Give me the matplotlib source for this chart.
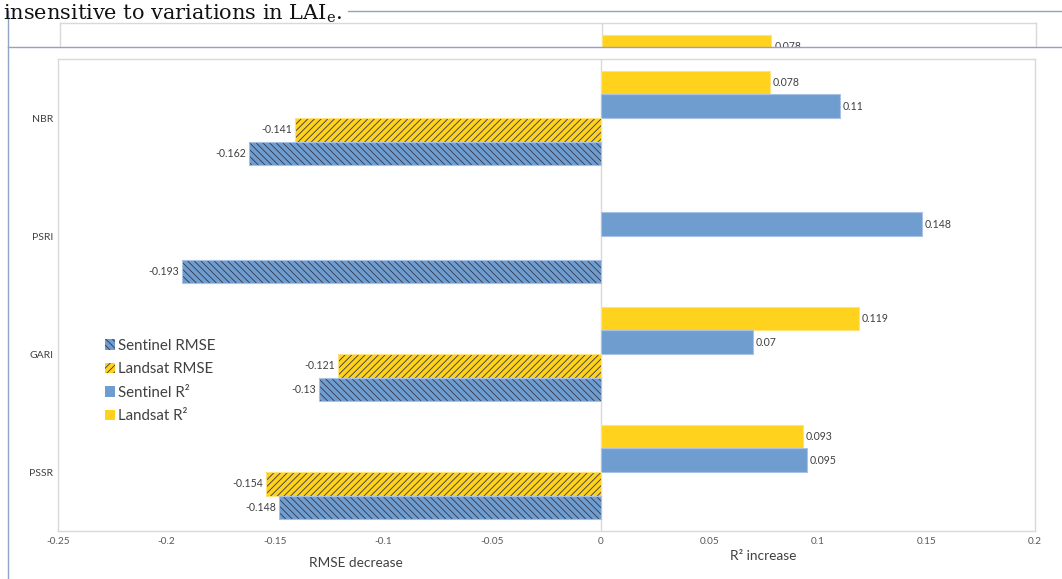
import matplotlib
matplotlib.use("Agg")
import matplotlib.pyplot as plt
import numpy as np
from matplotlib.patches import Patch
from matplotlib.lines import Line2D

# ---- data -------------------------------------------------------------
indices = ["NBR", "PSRI", "GARI", "PSSR"]
landsat_r2 = [0.078, np.nan, 0.119, 0.093]
sentinel_r2 = [0.11, 0.148, 0.07, 0.095]
landsat_rmse = [-0.141, np.nan, -0.121, -0.154]
sentinel_rmse = [-0.162, -0.193, -0.13, -0.148]
x_ticks = [-0.25, -0.2, -0.15, -0.1, -0.05, 0, 0.05, 0.1, 0.15, 0.2]
x_tick_labels = ["-0.25", "-0.2", "-0.15", "-0.1", "-0.05", "0",
                 "0.05", "0.1", "0.15", "0.2"]
series_names = ["Sentinel RMSE", "Landsat RMSE", "Sentinel R²", "Landsat R²"]
page_line = "insensitive to variations in LAI$_\\mathregular{e}$."

# ---- style ------------------------------------------------------------
plt.rcParams["font.family"] = ["Lato", "DejaVu Sans"]
plt.rcParams["mathtext.fontset"] = "dejavuserif"
plt.rcParams["hatch.linewidth"] = 0.6

BLUE = "#709DCF"
YELLOW = "#FFD21E"
BLUE_EDGE = "#A7C2E4"
YELLOW_EDGE = "#FFE37A"
HATCH = "#33384A"
GRID = "#D9D9D9"
TEXT = "#404040"
TICK = "#595959"
FRAME = "#8FA3C3"

W, H = 1062, 579
fig = plt.figure(figsize=(W / 100, H / 100), dpi=100)


def fx(px):
    return px / W


def fy(py):
    return 1 - py / H


BAR_H = 0.2
offsets = {"landsat_r2": -0.3, "sentinel_r2": -0.1,
           "landsat_rmse": 0.1, "sentinel_rmse": 0.3}


def draw_series(ax, vals, offset, color, edge, hatch=None, clip=False):
    v = np.array(vals, dtype=float)
    y = np.arange(len(v)) + offset
    m = ~np.isnan(v)
    if hatch:
        ax.barh(y[m], v[m], height=BAR_H, color=color, edgecolor=HATCH,
                linewidth=0, hatch=hatch, zorder=2)
    else:
        ax.barh(y[m], v[m], height=BAR_H, color=color, linewidth=0, zorder=2)
    ax.barh(y[m], v[m], height=BAR_H, fill=False, edgecolor=edge,
            linewidth=0.8, zorder=3)
    for yi, vi in zip(y[m], v[m]):
        ax.annotate(f"{vi:g}", (vi, yi), xytext=(-2 if vi < 0 else 2, 0),
                    textcoords="offset points",
                    ha="right" if vi < 0 else "left", va="center",
                    fontsize=7.6, color=TEXT, clip_on=clip)


def style_axes(ax):
    ax.set_xlim(-0.25, 0.2)
    for s in ax.spines.values():
        s.set_color(GRID)
        s.set_linewidth(1)
    ax.axvline(0, color=GRID, lw=1, zorder=1)


# ---- main chart -------------------------------------------------------
ax = fig.add_axes([fx(58), fy(531), fx(1035) - fx(58), fy(59) - fy(531)])
style_axes(ax)
ax.set_ylim(3.5, -0.5)

draw_series(ax, landsat_r2, offsets["landsat_r2"], YELLOW, YELLOW_EDGE)
draw_series(ax, sentinel_r2, offsets["sentinel_r2"], BLUE, BLUE_EDGE)
draw_series(ax, landsat_rmse, offsets["landsat_rmse"], YELLOW, YELLOW_EDGE,
            hatch="/////")
draw_series(ax, sentinel_rmse, offsets["sentinel_rmse"], BLUE, BLUE_EDGE,
            hatch="\\\\\\\\\\")

ax.set_xticks(x_ticks)
ax.set_xticklabels(x_tick_labels)
ax.set_yticks(np.arange(len(indices)))
ax.set_yticklabels(indices)
ax.tick_params(axis="x", length=0, pad=4, labelsize=7.2, labelcolor=TICK)
ax.tick_params(axis="y", length=0, pad=3.6, labelsize=7.5, labelcolor=TEXT)

handles = [
    Patch(facecolor=BLUE, edgecolor=HATCH, linewidth=0, hatch="\\\\\\\\\\"),
    Patch(facecolor=YELLOW, edgecolor=HATCH, linewidth=0, hatch="/////"),
    Patch(facecolor=BLUE, linewidth=0),
    Patch(facecolor=YELLOW, linewidth=0),
]
fig.legend(handles, series_names, loc="center left",
           bbox_to_anchor=(fx(105), fy(381)), frameon=False,
           fontsize=10.8, labelcolor=TEXT, handlelength=0.67,
           handleheight=0.67, handletextpad=0.2, labelspacing=0.63,
           borderpad=0, borderaxespad=0)

fig.text(fx(356), fy(563), "RMSE decrease", ha="center", va="center",
         fontsize=9.8, color=TEXT)
fig.text(fx(763), fy(556), "R² increase", ha="center", va="center",
         fontsize=9.8, color=TEXT)

# ---- repeated chart strip above (clipped by the page frame) ----------
strip_px = 24
axs = fig.add_axes([fx(60), fy(47), fx(1036) - fx(60), fy(23) - fy(47)])
style_axes(axs)
axs.spines["bottom"].set_visible(False)
axs.set_ylim(-0.5 + strip_px / 118.0, -0.5)
axs.set_xticks([])
axs.set_yticks([])
draw_series(axs, landsat_r2[:1], offsets["landsat_r2"], YELLOW, YELLOW_EDGE,
            clip=True)

# ---- page frame and text line -----------------------------------------
fig.add_artist(Line2D([fx(348), 1], [fy(11), fy(11)], color=FRAME, lw=1))
fig.add_artist(Line2D([fx(8), 1], [fy(47), fy(47)], color=FRAME, lw=1,
                      zorder=10))
fig.add_artist(Line2D([fx(8), fx(8)], [fy(11), 0], color=FRAME, lw=1))
fig.text(fx(3), fy(20), page_line, ha="left", va="baseline",
         family="DejaVu Serif", fontsize=15, color="#111111")

fig.savefig("out.png", dpi=100)
